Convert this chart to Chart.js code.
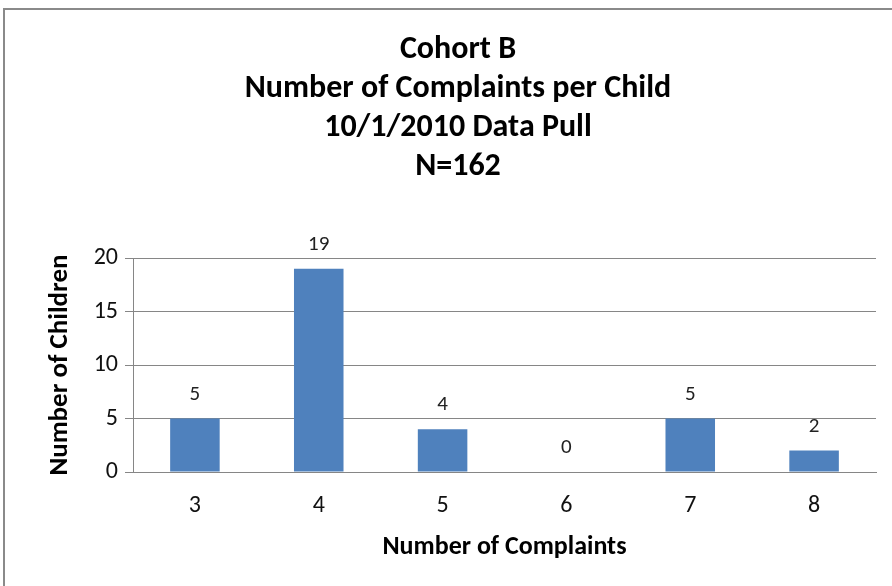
<!DOCTYPE html>
<html>
<head>
<meta charset="utf-8">
<script src="https://cdn.jsdelivr.net/npm/chart.js@4/dist/chart.umd.min.js"></script>
<style>
  html, body { margin: 0; padding: 0; background: #fff; }
  #wrap { position: relative; width: 892px; height: 586px; overflow: hidden; }
  #frame {
    position: absolute; left: 3px; top: 8px; width: 1000px; height: 700px;
    border-top: 2px solid #8a8a8a; border-left: 2px solid #8a8a8a;
  }
  canvas { position: absolute; left: 0; top: 0; }
</style>
</head>
<body>
<div id="wrap">
  <div id="frame"></div>
  <canvas id="chart" width="892" height="586"></canvas>
</div>
<script>
// chart data
const complaints = ['3', '4', '5', '6', '7', '8'];
const children = [5, 19, 4, 0, 5, 2];
const titleLines = ['Cohort B', 'Number of Complaints per Child', '10/1/2010 Data Pull', 'N=162'];

const FONT = 'Carlito, Lato, sans-serif';
const GRID = '#868686';

// draws the value above each bar (no datalabels plugin offline)
const valueLabels = {
  id: 'valueLabels',
  afterDatasetsDraw(chart) {
    const ctx = chart.ctx;
    const meta = chart.getDatasetMeta(0);
    ctx.save();
    ctx.font = '21px ' + FONT;
    ctx.fillStyle = '#222';
    ctx.textAlign = 'center';
    ctx.textBaseline = 'middle';
    meta.data.forEach((bar, i) => {
      ctx.fillText(String(children[i]), bar.x, bar.y - 24);
    });
    ctx.restore();
  }
};

new Chart(document.getElementById('chart'), {
  type: 'bar',
  data: {
    labels: complaints,
    datasets: [{
      data: children,
      backgroundColor: '#4F81BD',
      barPercentage: 0.4,
      categoryPercentage: 1.0,
    }],
  },
  options: {
    responsive: false,
    animation: false,
    layout: { padding: { left: 40, right: 16, top: 10, bottom: 20 } },
    plugins: {
      legend: { display: false },
      tooltip: { enabled: false },
      title: {
        display: true,
        text: titleLines,
        color: '#000',
        font: { family: FONT, size: 32, weight: 'bold', lineHeight: 1.22 },
        padding: { top: 20, bottom: 72 },
      },
    },
    scales: {
      x: {
        grid: { display: false, drawTicks: false },
        border: { display: true, color: GRID, width: 1 },
        ticks: { color: '#111', font: { family: FONT, size: 24 }, padding: 20 },
        title: {
          display: true,
          text: 'Number of Complaints',
          color: '#000',
          font: { family: FONT, size: 26, weight: 'bold' },
          padding: { top: 4, bottom: 3 },
        },
        afterFit(scale) { scale.height = 94; },
      },
      y: {
        min: 0,
        max: 20,
        ticks: { stepSize: 5, color: '#111', font: { family: FONT, size: 24 }, padding: 7 },
        grid: { color: GRID, tickLength: 8, drawTicks: true },
        border: { display: true, color: GRID, width: 1 },
        title: {
          display: true,
          text: 'Number of Children',
          color: '#000',
          font: { family: FONT, size: 27, weight: 'bold' },
          padding: { top: 4, bottom: 4 },
        },
        afterFit(scale) { scale.width = 93; },
      },
    },
  },
  plugins: [valueLabels],
});
</script>
</body>
</html>
